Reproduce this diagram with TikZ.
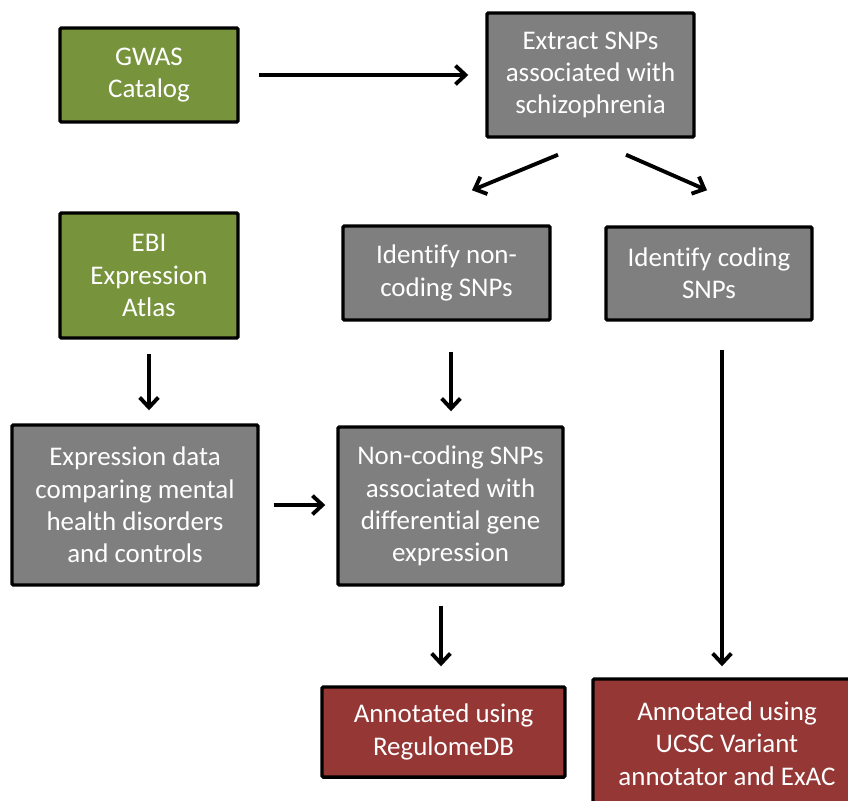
\documentclass[tikz,border=0pt]{standalone}
\usepackage{fontspec}
\setmainfont[Ligatures=NoCommon]{Carlito}
\usetikzlibrary{arrows.meta,calc}
\definecolor{boxgreen}{HTML}{77933C}
\definecolor{boxgray}{HTML}{7F7F7F}
\definecolor{boxred}{HTML}{953735}
\tikzset{
  box/.style={draw=black, line width=2.6pt, rounded corners=1pt, text=white, align=center,
    inner sep=0pt, font=\fontsize{20.2pt}{24.2pt}\selectfont},
  greenbox/.style={box, fill=boxgreen},
  graybox/.style={box, fill=boxgray},
  redbox/.style={box, fill=boxred},
  arr/.style={line width=2.9pt, -{Straight Barb[length=7.5pt,width=14pt,line width=2.9pt]}},
}
\begin{document}
\begin{tikzpicture}[x=0.75pt,y=-0.75pt]
\useasboundingbox (0,0) rectangle (848,800);
\clip (0,0) rectangle (848,800);
\node[greenbox, minimum width=178*0.75pt, minimum height=94*0.75pt] (gwas) at (149,75) {GWAS\\Catalog};
\node[graybox, minimum width=207*0.75pt, minimum height=124*0.75pt] (extract) at (590.5,75) {Extract SNPs\\associated with\\schizophrenia};
\node[greenbox, minimum width=178*0.75pt, minimum height=125*0.75pt] (ebi) at (149,275.5) {EBI\\Expression\\Atlas};
\node[graybox, minimum width=207*0.75pt, minimum height=94*0.75pt] (ncid) at (446.5,273) {Identify non-\\coding SNPs};
\node[graybox, minimum width=206*0.75pt, minimum height=93*0.75pt] (cid) at (709,273.5) {Identify coding\\SNPs};
\node[graybox, minimum width=246*0.75pt, minimum height=160*0.75pt] (expr) at (135,505) {Expression data\\comparing mental\\health disorders\\and controls};
\node[graybox, minimum width=225*0.75pt, minimum height=158*0.75pt] (ncsnp) at (450.5,506) {Non-coding SNPs\\associated with\\differential gene\\expression};
\node[redbox, minimum width=243*0.75pt, minimum height=90*0.75pt] (reg) at (443.5,732) {Annotated using\\RegulomeDB};
\node[redbox, minimum width=268*0.75pt, minimum height=129*0.75pt] (ucsc) at (727,743.5) {Annotated using\\UCSC Variant\\annotator and ExAC};

\draw[arr] ($(gwas.east)+(19,0)$) -- ($(extract.west)+(-17,0)$);
\draw[arr] ($(extract.south)+(-32.5,16)$) -- ($(ncid.north)+(25.5,-34)$);
\draw[arr] ($(extract.south)+(35.5,16)$) -- ($(cid.north)+(-2,-35)$);
\draw[arr] ($(ebi.south)+(0,14)$) -- ($(expr.north)+(14,-13)$);
\draw[arr] ($(ncid.south)+(4.5,30)$) -- ($(ncsnp.north)+(0.5,-14)$);
\draw[arr] ($(expr.east)+(14,0)$) -- ($(ncsnp.west)+(-11,-1)$);
\draw[arr] ($(ncsnp.south)+(-9.5,19)$) -- ($(reg.north)+(-2.5,-19)$);
\draw[arr] ($(cid.south)+(13,28)$) -- ($(ucsc.north)+(-5,-11)$);
\end{tikzpicture}
\end{document}
